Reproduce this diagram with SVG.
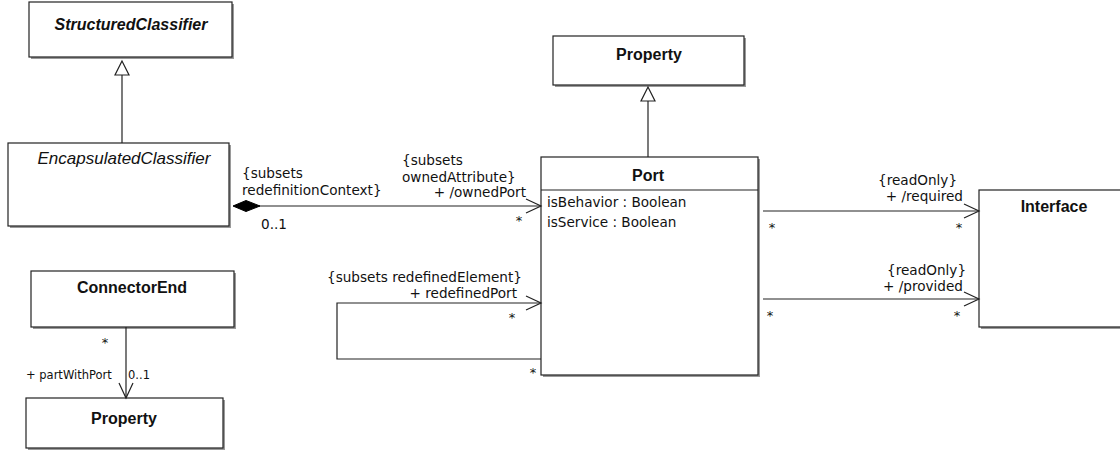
<svg xmlns="http://www.w3.org/2000/svg" width="1120" height="451" viewBox="0 0 1120 451">
<style>
.bg{fill:#fff}
.shadow{fill:#9a9a9a}
.box{fill:#fff;stroke:#222;stroke-width:1.2}
.line{fill:none;stroke:#222;stroke-width:1.2}
.name{font-family:"Liberation Sans",Arial,sans-serif;font-size:16px;font-weight:bold;fill:#111;text-anchor:middle}
.iname{font-family:"Liberation Sans",Arial,sans-serif;font-size:16px;font-weight:bold;font-style:italic;fill:#111;text-anchor:middle}
.iname2{font-family:"Liberation Sans",Arial,sans-serif;font-size:17px;font-style:italic;fill:#111;text-anchor:middle}
.lbl{font-family:"DejaVu Sans",Verdana,sans-serif;font-size:13.6px;fill:#111}
.sm{font-family:"DejaVu Sans",Verdana,sans-serif;font-size:11.5px;fill:#111}
.star{font-family:"DejaVu Sans",Verdana,sans-serif;font-size:13px;fill:#111;text-anchor:middle}
.end{text-anchor:end}
</style>
<rect class="bg" x="0" y="0" width="1120" height="451"/>

<g id="StructuredClassifier">
<rect class="shadow" x="31" y="4" width="203" height="55"/>
<rect class="box" x="29" y="2" width="203" height="55"/>
<text class="iname" x="131" y="30">StructuredClassifier</text>
</g>

<g id="EncapsulatedClassifier">
<rect class="shadow" x="10" y="145" width="221" height="83"/>
<rect class="box" x="8" y="143" width="221" height="83"/>
<text class="iname2" x="124" y="164">EncapsulatedClassifier</text>
</g>

<g id="ConnectorEnd">
<rect class="shadow" x="33" y="273" width="203" height="56"/>
<rect class="box" x="31" y="271" width="203" height="56"/>
<text class="name" x="132" y="293">ConnectorEnd</text>
</g>

<g id="PropertyBottom">
<rect class="shadow" x="28" y="400" width="197" height="50"/>
<rect class="box" x="26" y="398" width="197" height="50"/>
<text class="name" x="124" y="424">Property</text>
</g>

<g id="PropertyTop">
<rect class="shadow" x="555" y="38" width="191" height="49"/>
<rect class="box" x="553" y="36" width="191" height="49"/>
<text class="name" x="649" y="60">Property</text>
</g>

<g id="Port">
<rect class="shadow" x="543" y="159" width="217" height="218"/>
<rect class="box" x="541" y="157" width="217" height="218"/>
<line class="line" x1="541" y1="190" x2="758" y2="190"/>
<text class="name" x="648" y="181">Port</text>
<text class="lbl" x="547" y="207">isBehavior : Boolean</text>
<text class="lbl" x="547" y="227">isService : Boolean</text>
</g>

<g id="Interface">
<rect class="shadow" x="981" y="192" width="150" height="137"/>
<rect class="box" x="979" y="190" width="150" height="137"/>
<text class="name" x="1054" y="212">Interface</text>
</g>

<g id="connectors">
<line class="line" x1="122" y1="75" x2="122" y2="143"/>
<polygon class="box" points="122,61 115,75 129,75"/>
<line class="line" x1="648" y1="101" x2="648" y2="157"/>
<polygon class="box" points="648,87 641,101 655,101"/>
<line class="line" x1="259" y1="206" x2="541" y2="206"/>
<polygon points="233,206 246,200.5 260,206 246,211.5" fill="#000" stroke="#000" stroke-width="1"/>
<polyline class="line" points="526,199 541,206 526,213"/>
<polyline class="line" points="541,359 337,359 337,303 541,303"/>
<polyline class="line" points="526,296 541,303 526,310"/>
<line class="line" x1="763" y1="211" x2="979" y2="211"/>
<polyline class="line" points="964,204 979,211 964,218"/>
<line class="line" x1="763" y1="299" x2="979" y2="299"/>
<polyline class="line" points="964,292 979,299 964,306"/>
<line class="line" x1="126" y1="327" x2="126" y2="398"/>
<polyline class="line" points="119,383 126,398 133,383"/>

<text class="lbl" x="242" y="178">{subsets</text>
<text class="lbl" x="242" y="195">redefinitionContext}</text>
<text class="lbl" x="261" y="229">0..1</text>

<text class="lbl" x="402" y="165">{subsets</text>
<text class="lbl" x="402" y="182">ownedAttribute}</text>
<text class="lbl end" x="526" y="197">+ /ownedPort</text>
<text class="star" x="519" y="225">*</text>

<text class="lbl" x="327" y="282">{subsets redefinedElement}</text>
<text class="lbl end" x="517" y="298">+ redefinedPort</text>
<text class="star" x="512" y="322">*</text>
<text class="star" x="533" y="377">*</text>

<text class="lbl" x="878" y="185">{readOnly}</text>
<text class="lbl end" x="963" y="201">+ /required</text>
<text class="star" x="772" y="232">*</text>
<text class="star" x="959" y="232">*</text>

<text class="lbl" x="887" y="275">{readOnly}</text>
<text class="lbl end" x="963" y="291">+ /provided</text>
<text class="star" x="770" y="320">*</text>
<text class="star" x="957" y="320">*</text>

<text class="star" x="105" y="347">*</text>
<text class="sm" x="26" y="379">+ partWithPort</text>
<text class="sm" x="128" y="379">0..1</text>
</g>
</svg>
